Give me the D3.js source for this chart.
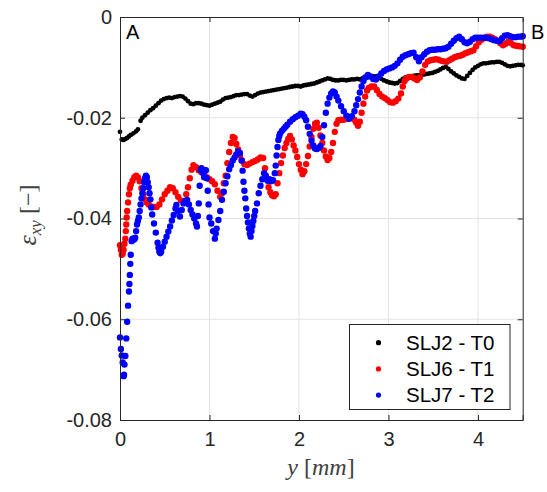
<!DOCTYPE html>
<html><head><meta charset="utf-8">
<script src="https://cdn.jsdelivr.net/npm/d3@7"></script>
<style>body{margin:0;background:#fff}svg{display:block}</style>
</head><body>
<svg id="c" width="547" height="492"></svg>
<script>
const xTicks = [0, 1, 2, 3, 4];
const yTicks = [0, -0.02, -0.04, -0.06, -0.08];
const yTickLabels = ["0", "-0.02", "-0.04", "-0.06", "-0.08"];
const seriesNames = ["SLJ2 - T0", "SLJ6 - T1", "SLJ7 - T2"];
const seriesColors = ["#000000", "#ff0000", "#0000ff"];

const slj2 = [[0,-0.0228],[0.02,-0.0243],[0.04,-0.0244],[0.06,-0.0242],[0.08,-0.024],[0.1,-0.0237],[0.12,-0.0234],[0.15,-0.0231],[0.18,-0.0227],[0.2,-0.0223],[0.23,-0.0206],[0.25,-0.02],[0.28,-0.0195],[0.31,-0.019],[0.34,-0.0185],[0.37,-0.0181],[0.4,-0.0176],[0.43,-0.0171],[0.46,-0.0166],[0.49,-0.0163],[0.52,-0.0161],[0.55,-0.016],[0.58,-0.0161],[0.61,-0.0159],[0.64,-0.0158],[0.67,-0.0157],[0.7,-0.0158],[0.73,-0.0162],[0.76,-0.0167],[0.79,-0.0172],[0.82,-0.0173],[0.85,-0.0171],[0.88,-0.0171],[0.91,-0.0172],[0.94,-0.0174],[0.97,-0.0175],[1,-0.0176],[1.03,-0.0174],[1.06,-0.0172],[1.09,-0.017],[1.12,-0.0168],[1.15,-0.0164],[1.18,-0.0161],[1.21,-0.016],[1.24,-0.0159],[1.27,-0.0157],[1.3,-0.0155],[1.33,-0.0155],[1.36,-0.0154],[1.39,-0.0153],[1.42,-0.0153],[1.45,-0.0156],[1.48,-0.0158],[1.51,-0.0155],[1.54,-0.0152],[1.57,-0.015],[1.6,-0.0149],[1.63,-0.0148],[1.66,-0.0147],[1.69,-0.0146],[1.72,-0.0145],[1.75,-0.0144],[1.78,-0.0143],[1.81,-0.0142],[1.84,-0.0141],[1.87,-0.014],[1.9,-0.0139],[1.93,-0.0138],[1.96,-0.0137],[1.99,-0.0137],[2.02,-0.0138],[2.05,-0.0136],[2.08,-0.0135],[2.11,-0.0134],[2.14,-0.0133],[2.17,-0.0132],[2.2,-0.013],[2.23,-0.0128],[2.26,-0.0126],[2.29,-0.0124],[2.32,-0.0122],[2.35,-0.0123],[2.38,-0.0125],[2.41,-0.0126],[2.44,-0.0126],[2.47,-0.0125],[2.5,-0.0125],[2.53,-0.0126],[2.56,-0.0125],[2.59,-0.0124],[2.62,-0.0124],[2.65,-0.0123],[2.68,-0.0124],[2.71,-0.0122],[2.74,-0.0121],[2.77,-0.012],[2.8,-0.0119],[2.83,-0.0118],[2.86,-0.0118],[2.89,-0.012],[2.92,-0.0123],[2.95,-0.0126],[2.98,-0.0128],[3.01,-0.013],[3.04,-0.0131],[3.07,-0.0132],[3.1,-0.0131],[3.13,-0.0127],[3.16,-0.0123],[3.19,-0.012],[3.22,-0.0119],[3.25,-0.0118],[3.28,-0.0117],[3.31,-0.0116],[3.34,-0.0116],[3.37,-0.0115],[3.4,-0.0114],[3.43,-0.0113],[3.46,-0.0112],[3.49,-0.0111],[3.52,-0.0109],[3.55,-0.0107],[3.58,-0.0104],[3.61,-0.0101],[3.64,-0.0099],[3.67,-0.0103],[3.7,-0.0108],[3.73,-0.0112],[3.76,-0.0116],[3.79,-0.0119],[3.82,-0.0122],[3.85,-0.0123],[3.88,-0.0117],[3.91,-0.0111],[3.94,-0.0105],[3.97,-0.01],[4,-0.0097],[4.03,-0.0094],[4.06,-0.0092],[4.09,-0.0092],[4.12,-0.0091],[4.15,-0.009],[4.18,-0.009],[4.21,-0.0089],[4.24,-0.0089],[4.27,-0.0091],[4.3,-0.0094],[4.33,-0.0097],[4.36,-0.0098],[4.39,-0.0097],[4.42,-0.0096],[4.45,-0.0095],[4.48,-0.0095],[4.5,-0.0096]];

const slj6 = [[0,-0.0453],[0.01,-0.0462],[0.02,-0.0472],[0.03,-0.047],[0.04,-0.0462],[0.05,-0.045],[0.06,-0.044],[0.065,-0.0425],[0.07,-0.0412],[0.075,-0.0398],[0.08,-0.0385],[0.09,-0.0368],[0.1,-0.0352],[0.11,-0.034],[0.12,-0.0333],[0.14,-0.0325],[0.16,-0.0318],[0.18,-0.0315],[0.2,-0.0318],[0.22,-0.0326],[0.24,-0.034],[0.26,-0.0352],[0.28,-0.0362],[0.3,-0.0368],[0.32,-0.0372],[0.35,-0.0376],[0.38,-0.0377],[0.41,-0.0377],[0.44,-0.0372],[0.47,-0.0362],[0.5,-0.0352],[0.53,-0.0345],[0.56,-0.0338],[0.59,-0.034],[0.62,-0.0348],[0.65,-0.0357],[0.68,-0.0364],[0.71,-0.0366],[0.74,-0.0352],[0.76,-0.0338],[0.78,-0.032],[0.8,-0.0303],[0.82,-0.0294],[0.85,-0.0298],[0.88,-0.0304],[0.91,-0.0308],[0.94,-0.0313],[0.97,-0.0318],[1,-0.0322],[1.03,-0.0326],[1.06,-0.0332],[1.09,-0.0345],[1.12,-0.0357],[1.14,-0.035],[1.16,-0.033],[1.18,-0.0315],[1.2,-0.029],[1.22,-0.0268],[1.24,-0.025],[1.26,-0.0238],[1.28,-0.024],[1.3,-0.0252],[1.32,-0.0263],[1.34,-0.0275],[1.36,-0.0285],[1.39,-0.0292],[1.42,-0.0294],[1.45,-0.0291],[1.48,-0.0288],[1.51,-0.0286],[1.54,-0.0283],[1.57,-0.0279],[1.6,-0.028],[1.62,-0.03],[1.64,-0.0322],[1.66,-0.0338],[1.68,-0.0348],[1.7,-0.0354],[1.72,-0.0356],[1.74,-0.0352],[1.76,-0.033],[1.78,-0.031],[1.8,-0.029],[1.82,-0.0275],[1.84,-0.026],[1.86,-0.025],[1.88,-0.0242],[1.9,-0.0236],[1.92,-0.0243],[1.94,-0.0255],[1.96,-0.0265],[1.98,-0.0278],[2,-0.0292],[2.02,-0.0303],[2.04,-0.0312],[2.06,-0.0306],[2.08,-0.0292],[2.1,-0.0276],[2.12,-0.0257],[2.14,-0.0238],[2.16,-0.0222],[2.18,-0.0212],[2.2,-0.021],[2.22,-0.022],[2.24,-0.0235],[2.26,-0.025],[2.28,-0.0265],[2.3,-0.0277],[2.32,-0.0284],[2.34,-0.028],[2.36,-0.0268],[2.38,-0.025],[2.4,-0.0228],[2.42,-0.0212],[2.44,-0.0205],[2.47,-0.0204],[2.5,-0.0204],[2.53,-0.0202],[2.56,-0.0199],[2.59,-0.02],[2.62,-0.0204],[2.64,-0.021],[2.66,-0.0216],[2.68,-0.0208],[2.7,-0.019],[2.72,-0.0172],[2.74,-0.0158],[2.76,-0.0146],[2.78,-0.0141],[2.81,-0.0138],[2.84,-0.0138],[2.87,-0.0145],[2.9,-0.0153],[2.93,-0.0158],[2.96,-0.0161],[2.99,-0.0165],[3.02,-0.0169],[3.05,-0.017],[3.08,-0.0167],[3.11,-0.0162],[3.14,-0.0152],[3.16,-0.0138],[3.18,-0.0127],[3.2,-0.0122],[3.23,-0.0119],[3.26,-0.0119],[3.29,-0.0122],[3.32,-0.0125],[3.35,-0.012],[3.38,-0.0108],[3.41,-0.0095],[3.44,-0.0088],[3.47,-0.0086],[3.5,-0.0085],[3.53,-0.0084],[3.56,-0.0085],[3.59,-0.0087],[3.62,-0.0088],[3.65,-0.0089],[3.68,-0.0086],[3.71,-0.0083],[3.74,-0.008],[3.77,-0.0078],[3.8,-0.0077],[3.83,-0.0075],[3.86,-0.0072],[3.89,-0.007],[3.92,-0.0068],[3.95,-0.0066],[3.98,-0.0058],[4.01,-0.005],[4.04,-0.0045],[4.07,-0.0042],[4.1,-0.0039],[4.13,-0.0039],[4.16,-0.0041],[4.19,-0.0044],[4.22,-0.0047],[4.25,-0.0052],[4.28,-0.0056],[4.31,-0.0053],[4.34,-0.0049],[4.37,-0.0052],[4.4,-0.0056],[4.43,-0.0057],[4.46,-0.0058],[4.5,-0.0059]];

const slj7 = [[0,-0.0636],[0.01,-0.0659],[0.02,-0.0672],[0.03,-0.0686],[0.04,-0.0713],[0.045,-0.071],[0.05,-0.069],[0.06,-0.0673],[0.07,-0.0638],[0.08,-0.0605],[0.09,-0.0573],[0.1,-0.0545],[0.105,-0.053],[0.11,-0.0512],[0.115,-0.049],[0.12,-0.0472],[0.13,-0.0445],[0.14,-0.044],[0.15,-0.0442],[0.16,-0.0441],[0.17,-0.0438],[0.18,-0.0425],[0.19,-0.0412],[0.2,-0.0405],[0.21,-0.0398],[0.22,-0.0385],[0.23,-0.0372],[0.24,-0.036],[0.25,-0.035],[0.26,-0.034],[0.27,-0.0328],[0.28,-0.032],[0.29,-0.0315],[0.3,-0.0318],[0.31,-0.0328],[0.32,-0.0338],[0.33,-0.035],[0.34,-0.0362],[0.35,-0.0378],[0.36,-0.0392],[0.38,-0.041],[0.4,-0.0428],[0.42,-0.0448],[0.43,-0.0458],[0.44,-0.0466],[0.45,-0.0469],[0.46,-0.0466],[0.48,-0.0456],[0.5,-0.0446],[0.52,-0.0436],[0.54,-0.0426],[0.56,-0.0416],[0.58,-0.0404],[0.6,-0.0393],[0.62,-0.038],[0.63,-0.0373],[0.65,-0.0385],[0.67,-0.0396],[0.69,-0.0383],[0.71,-0.037],[0.73,-0.0365],[0.75,-0.0363],[0.77,-0.0372],[0.79,-0.0383],[0.81,-0.0392],[0.83,-0.04],[0.85,-0.041],[0.86,-0.0416],[0.87,-0.0395],[0.88,-0.037],[0.89,-0.0335],[0.9,-0.0304],[0.91,-0.03],[0.92,-0.0303],[0.93,-0.031],[0.94,-0.0318],[0.95,-0.0305],[0.96,-0.0304],[0.97,-0.032],[0.98,-0.0345],[0.99,-0.0372],[1,-0.0398],[1.02,-0.041],[1.04,-0.0425],[1.06,-0.044],[1.07,-0.043],[1.08,-0.042],[1.1,-0.0403],[1.12,-0.0385],[1.14,-0.0363],[1.16,-0.0347],[1.18,-0.033],[1.2,-0.0316],[1.22,-0.0302],[1.24,-0.0294],[1.26,-0.0285],[1.28,-0.0279],[1.3,-0.0273],[1.32,-0.0267],[1.34,-0.027],[1.36,-0.0285],[1.37,-0.0305],[1.38,-0.0327],[1.39,-0.0345],[1.4,-0.036],[1.41,-0.038],[1.42,-0.0395],[1.43,-0.0408],[1.44,-0.042],[1.45,-0.043],[1.46,-0.0436],[1.47,-0.0425],[1.48,-0.0415],[1.49,-0.0405],[1.5,-0.0395],[1.51,-0.0385],[1.53,-0.037],[1.55,-0.035],[1.57,-0.0335],[1.59,-0.0322],[1.61,-0.031],[1.63,-0.0315],[1.65,-0.0325],[1.67,-0.0322],[1.69,-0.0326],[1.71,-0.0324],[1.73,-0.031],[1.74,-0.0295],[1.75,-0.0275],[1.76,-0.0258],[1.77,-0.0244],[1.78,-0.0236],[1.79,-0.0231],[1.81,-0.0226],[1.83,-0.0222],[1.85,-0.0218],[1.87,-0.0214],[1.9,-0.0208],[1.93,-0.0203],[1.96,-0.0199],[1.99,-0.0196],[2.02,-0.0192],[2.04,-0.0193],[2.06,-0.0198],[2.08,-0.0205],[2.1,-0.0218],[2.12,-0.0232],[2.14,-0.0245],[2.16,-0.0255],[2.18,-0.0261],[2.2,-0.0262],[2.22,-0.026],[2.24,-0.0256],[2.26,-0.0238],[2.28,-0.0215],[2.3,-0.019],[2.32,-0.0172],[2.34,-0.016],[2.36,-0.0152],[2.38,-0.0148],[2.4,-0.015],[2.42,-0.0158],[2.44,-0.0166],[2.47,-0.0177],[2.5,-0.0187],[2.53,-0.0196],[2.56,-0.0202],[2.59,-0.0197],[2.62,-0.0187],[2.64,-0.0175],[2.66,-0.0163],[2.68,-0.015],[2.7,-0.0138],[2.72,-0.0127],[2.74,-0.012],[2.77,-0.0115],[2.8,-0.0118],[2.83,-0.0123],[2.86,-0.0124],[2.89,-0.0118],[2.92,-0.0112],[2.95,-0.0107],[2.98,-0.0104],[3.01,-0.0102],[3.04,-0.01],[3.07,-0.0097],[3.1,-0.0092],[3.13,-0.0085],[3.16,-0.0079],[3.19,-0.0076],[3.22,-0.0074],[3.25,-0.0072],[3.28,-0.0071],[3.31,-0.008],[3.34,-0.0088],[3.37,-0.008],[3.4,-0.0074],[3.43,-0.0069],[3.46,-0.0066],[3.49,-0.0065],[3.52,-0.0065],[3.55,-0.0064],[3.58,-0.0064],[3.61,-0.0063],[3.64,-0.0062],[3.67,-0.0059],[3.7,-0.0053],[3.73,-0.0047],[3.76,-0.0042],[3.79,-0.0039],[3.82,-0.0044],[3.85,-0.005],[3.88,-0.0052],[3.91,-0.0049],[3.94,-0.0044],[3.97,-0.0041],[4,-0.0041],[4.03,-0.0041],[4.06,-0.0041],[4.09,-0.0041],[4.12,-0.0042],[4.15,-0.0044],[4.18,-0.0046],[4.21,-0.0047],[4.24,-0.0048],[4.27,-0.0042],[4.3,-0.0037],[4.33,-0.0036],[4.36,-0.0038],[4.39,-0.004],[4.42,-0.004],[4.45,-0.0039],[4.48,-0.0039],[4.5,-0.0038]];

const allSeries = [slj2, slj6, slj7];
const radii = [2.4, 3.2, 3.2];

const L = 120, R = 522.7, T = 17, B = 420;
const svg = d3.select("#c");
const x = d3.scaleLinear().domain([0, 4.5]).range([L, R]);
const y = d3.scaleLinear().domain([-0.08, 0]).range([B, T]);
const txt = "#262626";
const font = "'Liberation Sans', Arial, sans-serif";

// grid
svg.append("g").selectAll("line.gx").data(xTicks.slice(1)).join("line")
  .attr("x1", d => x(d)).attr("x2", d => x(d)).attr("y1", T).attr("y2", B)
  .attr("stroke", "#e3e3e3").attr("stroke-width", 1);
svg.append("g").selectAll("line.gy").data(yTicks.slice(1, -1)).join("line")
  .attr("x1", L).attr("x2", R).attr("y1", d => y(d)).attr("y2", d => y(d))
  .attr("stroke", "#e3e3e3").attr("stroke-width", 1);

// data
svg.append("clipPath").attr("id", "pc").append("rect")
  .attr("x", L - 4).attr("y", T - 4).attr("width", R - L + 8).attr("height", B - T + 8);
allSeries.forEach((s, i) => {
  svg.append("g").attr("clip-path", "url(#pc)").selectAll("circle").data(s).join("circle")
    .attr("cx", d => x(d[0])).attr("cy", d => y(d[1])).attr("r", radii[i])
    .attr("fill", seriesColors[i]);
});

// axes
const ax = svg.append("g").attr("transform", `translate(0,${B})`)
  .call(d3.axisBottom(x).tickValues(xTicks).tickSize(-5).tickPadding(12).tickFormat(d3.format("d")));
const ay = svg.append("g").attr("transform", `translate(${L},0)`)
  .call(d3.axisLeft(y).tickValues(yTicks).tickSize(-5).tickPadding(8).tickFormat((d, i) => yTickLabels[i]));
const at = svg.append("g").attr("transform", `translate(0,${T})`)
  .call(d3.axisTop(x).tickValues(xTicks).tickSize(-5).tickFormat(""));
const ar = svg.append("g").attr("transform", `translate(${R},0)`)
  .call(d3.axisRight(y).tickValues(yTicks).tickSize(-5).tickFormat(""));
[ax, ay, at, ar].forEach(g => {
  g.selectAll("path.domain").attr("stroke", txt).attr("stroke-width", 1);
  g.selectAll(".tick line").attr("stroke", txt);
  g.selectAll("text").attr("fill", txt).style("font-family", font).style("font-size", "20px");
});

// labels
svg.append("text").attr("x", 126).attr("y", 39).text("A")
  .attr("fill", "#000").style("font-family", font).style("font-size", "20px");
svg.append("text").attr("x", 531).attr("y", 39).text("B")
  .attr("fill", "#000").style("font-family", font).style("font-size", "20px");

const serif = "'Liberation Serif', 'DejaVu Serif', serif";
const xl = svg.append("text").attr("x", 321).attr("y", 475).attr("text-anchor", "middle")
  .attr("fill", "#404040").style("font-family", serif).style("font-size", "24px");
xl.append("tspan").attr("font-style", "italic").text("y");
xl.append("tspan").text(" [");
xl.append("tspan").attr("font-style", "italic").text("mm");
xl.append("tspan").text("]");

const yl = svg.append("text").attr("transform", "translate(36,215) rotate(-90)")
  .attr("text-anchor", "middle").attr("fill", "#404040")
  .style("font-family", serif).style("font-size", "26px");
yl.append("tspan").attr("font-style", "italic").text("ε");
yl.append("tspan").attr("font-style", "italic").attr("font-size", "17px").attr("dy", 5).text("xy");
yl.append("tspan").attr("dy", -5).attr("font-size", "24px").text(" [−]");

// legend
const lg = svg.append("g");
lg.append("rect").attr("x", 349.5).attr("y", 324.5).attr("width", 160.5).attr("height", 85)
  .attr("fill", "#fff").attr("stroke", txt).attr("stroke-width", 1);
seriesNames.forEach((n, i) => {
  const yy = 342.7 + i * 26.2;
  lg.append("circle").attr("cx", 378.5).attr("cy", yy).attr("r", 2.6).attr("fill", seriesColors[i]);
  lg.append("text").attr("x", 406).attr("y", yy + 7).text(n).attr("fill", "#000")
    .style("font-family", font).style("font-size", "20.5px");
});
</script>
</body></html>
